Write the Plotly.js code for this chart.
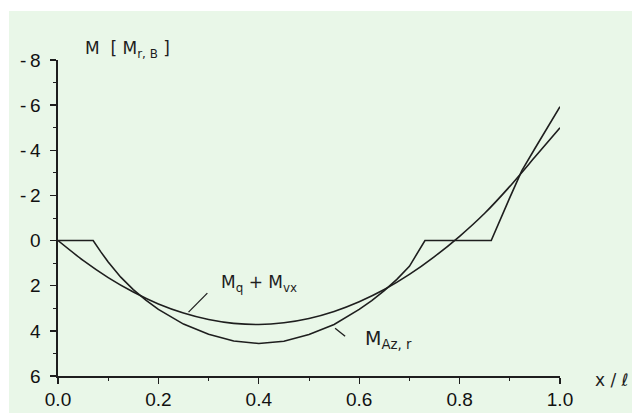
<!DOCTYPE html>
<html>
<head>
<meta charset="utf-8">
<script src="https://cdn.plot.ly/plotly-3.0.1.min.js"></script>
<style>
  html, body { margin: 0; padding: 0; background: #ffffff; width: 639px; height: 418px; overflow: hidden; }
  #chart { position: absolute; left: 9px; top: 11px; width: 623px; height: 402px; }
</style>
</head>
<body>
<div id="chart"></div>
<script>
// Bending moment along the beam, in units of M_r,B (negative values upward)

// M_q + M_vx : smooth curve
const xQV = [0, 0.05, 0.10, 0.15, 0.20, 0.25, 0.30, 0.35, 0.40, 0.45, 0.50,
             0.55, 0.60, 0.65, 0.70, 0.75, 0.80, 0.85, 0.90, 0.95, 1.00];
const mQV = [0, 0.88, 1.64, 2.28, 2.81, 3.21, 3.50, 3.67, 3.72, 3.64, 3.45,
             3.14, 2.71, 2.17, 1.50, 0.71, -0.19, -1.21, -2.40, -3.70, -5.00];

// M_Az,r : piecewise curve with two zero plateaus
const xAZ = [0, 0.07, 0.085, 0.10, 0.125, 0.15, 0.175, 0.20, 0.25, 0.30, 0.35, 0.40,
             0.45, 0.50, 0.55, 0.60, 0.625, 0.65, 0.675, 0.70, 0.731,
             0.863, 0.90, 0.924, 0.95, 1.00];
const mAZ = [0, 0, 0.49, 0.95, 1.62, 2.17, 2.64, 3.05, 3.70, 4.15, 4.45, 4.56,
             4.46, 4.16, 3.72, 3.05, 2.66, 2.22, 1.72, 1.14, 0,
             0, -1.90, -3.10, -4.08, -5.93];

// axis ticks
const yTickVals = [-8, -6, -4, -2, 0, 2, 4, 6];
const yTickText = ['-\u20098', '-\u20096', '-\u20094', '-\u20092', '0', '2', '4', '6'];
const xTickVals = [0, 0.2, 0.4, 0.6, 0.8, 1.0];
const xTickText = ['0.0', '0.2', '0.4', '0.6', '0.8', '1.0'];

const ink = '#1e1e1e';
const bg = '#e9f7e8';
const tickFont = { family: 'Liberation Sans, Arial, sans-serif', size: 19, color: '#111111' };
const noteFont = { family: 'DejaVu Sans, sans-serif', size: 17, color: ink };

const traces = [
  { x: xQV, y: mQV, type: 'scatter', mode: 'lines', name: 'Mq + Mvx',
    line: { color: ink, width: 1.6, shape: 'spline', smoothing: 0.6 }, hoverinfo: 'skip' },
  { x: xAZ, y: mAZ, type: 'scatter', mode: 'lines', name: 'MAz,r',
    line: { color: ink, width: 1.6, shape: 'linear' }, hoverinfo: 'skip' }
];

const axisCommon = {
  showgrid: false, zeroline: false, showline: true, linecolor: ink, linewidth: 1.6,
  ticks: 'outside', ticklen: 6, tickwidth: 1.3, tickcolor: ink, tickfont: tickFont,
  mirror: false, fixedrange: true
};

const layout = {
  width: 623, height: 402,
  margin: { l: 48.5, r: 72, t: 49, b: 37.3 },
  paper_bgcolor: bg, plot_bgcolor: bg,
  showlegend: false,
  xaxis: Object.assign({}, axisCommon, {
    range: [0, 1], tickmode: 'array', tickvals: xTickVals, ticktext: xTickText,
    ticklabelstandoff: 0,
    minor: { dtick: 0.1, ticks: 'outside', ticklen: 3, tickcolor: ink, tickwidth: 1 }
  }),
  yaxis: Object.assign({}, axisCommon, {
    range: [6, -8], tickmode: 'array', tickvals: yTickVals, ticktext: yTickText,
    ticklabelstandoff: 6,
    minor: { dtick: 1, ticks: 'outside', ticklen: 3, tickcolor: ink, tickwidth: 1 }
  }),
  shapes: [
    // leader lines from the curve labels
    { type: 'line', xref: 'x', yref: 'y', x0: 0.26, y0: 3.17, x1: 0.2975, y1: 2.33,
      line: { color: ink, width: 1.3 } },
    { type: 'line', xref: 'x', yref: 'y', x0: 0.552, y0: 3.88, x1: 0.572, y1: 4.24,
      line: { color: ink, width: 1.3 } }
  ],
  annotations: [
    { xref: 'paper', yref: 'paper', x: 0.138, y: 1.032, xanchor: 'center', yanchor: 'middle',
      showarrow: false, text: 'M  [ M<sub>r, B</sub> ]', font: noteFont },
    { xref: 'paper', yref: 'paper', x: 0.401, y: 0.294, xanchor: 'center', yanchor: 'middle',
      showarrow: false, text: 'M<sub>q</sub> + M<sub>vx</sub>', font: noteFont },
    { xref: 'paper', yref: 'paper', x: 0.658, y: 0.116, xanchor: 'center', yanchor: 'middle',
      showarrow: false, text: 'M<sub>Az, r</sub>', font: { family: noteFont.family, size: 19, color: ink } },
    { xref: 'paper', yref: 'paper', x: 1.103, y: -0.012, xanchor: 'center', yanchor: 'middle',
      showarrow: false, text: 'x / ℓ', font: noteFont }
  ]
};

Plotly.newPlot('chart', traces, layout, { displayModeBar: false, staticPlot: true });
</script>
</body>
</html>
